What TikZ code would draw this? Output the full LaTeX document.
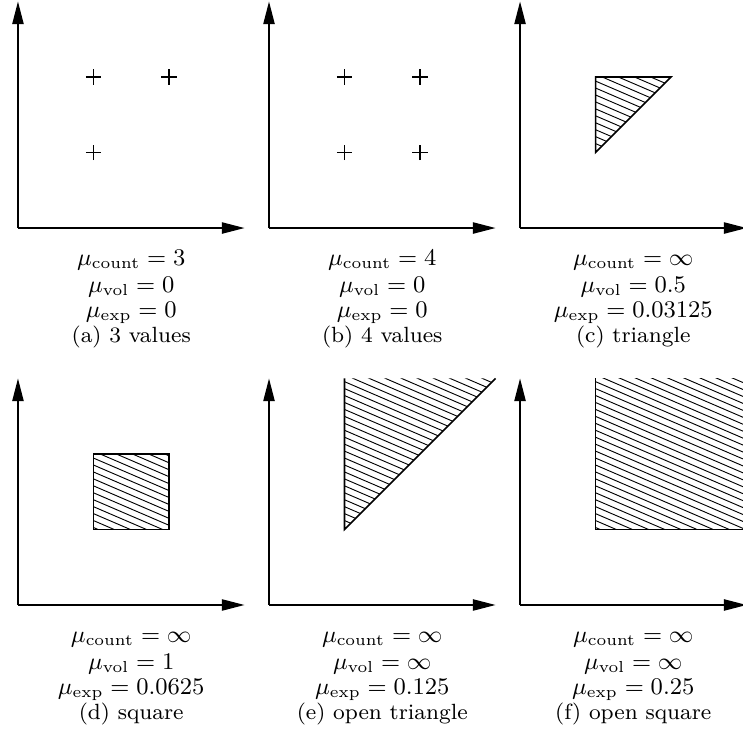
\documentclass[tikz,border=0pt]{standalone}
\usetikzlibrary{arrows.meta}
\tikzset{
  axisline/.style={line width=0.5pt, -{Triangle[length=3mm,width=1.5mm]}},
  shapeedge/.style={line width=0.6pt, line join=miter},
  hatchline/.style={line width=0.35pt},
  crossmark/.style={line width=0.4pt},
  lbl/.style={anchor=base, inner sep=0pt, font=\fontsize{9}{11}\selectfont},
  captext/.style={anchor=base, inner sep=0pt, font=\fontsize{8.3}{10}\selectfont},
}
\newcommand\hatchfill{%
  \foreach \k in {0,...,45} {\draw[hatchline] (0,{4.4-\k*0.092}) -- ++(4,-1.72);}%
}
\newcommand\panelaxes[1]{%
  \coordinate (#1-o) at (0,0);
  \coordinate (#1-x) at (3,0);
  \coordinate (#1-y) at (0,3);
  \draw[axisline] (#1-o) -- (#1-x);
  \draw[axisline] (#1-o) -- (#1-y);
}
\newcommand\crossat[2]{%
  \draw[crossmark] (#1-0.1,#2) -- (#1+0.1,#2) (#1,#2-0.1) -- (#1,#2+0.1);
}
\newcommand\captionlines[5]{%
  \node[lbl] (#1-l1) at (1.5,-0.50) {$\mu_{\mathrm{count}} = #2$};
  \node[lbl] (#1-l2) at (1.5,-0.85) {$\mu_{\mathrm{vol}} = #3$};
  \node[lbl] (#1-l3) at (1.5,-1.19) {$\mu_{\mathrm{exp}} = #4$};
  \node[captext] (#1-l4) at (1.5,-1.52) {#5};
}
\begin{document}
\begin{tikzpicture}
\useasboundingbox (-0.238,3.02) rectangle (9.603,-6.78);
\clip (-0.238,3.02) rectangle (9.603,-6.78);
% (a)
\begin{scope}[shift={(0,0)}]
  \panelaxes{a}
  \crossat{1}{2}\crossat{2}{2}\crossat{1}{1}
  \captionlines{a}{3}{0}{0}{(a) 3 values}
\end{scope}
% (b)
\begin{scope}[shift={(3.325,0)}]
  \panelaxes{b}
  \crossat{1}{2}\crossat{2}{2}\crossat{1}{1}\crossat{2}{1}
  \captionlines{b}{4}{0}{0}{(b) 4 values}
\end{scope}
% (c)
\begin{scope}[shift={(6.65,0)}]
  \panelaxes{c}
  \begin{scope}
    \clip (1,1) -- (1,2) -- (2,2) -- cycle;
    \hatchfill
  \end{scope}
  \draw[shapeedge] (1,1) -- (1,2) -- (2,2) -- cycle;
  \captionlines{c}{\infty}{0.5}{0.03125}{(c) triangle}
\end{scope}
% (d)
\begin{scope}[shift={(0,-4.993)}]
  \panelaxes{d}
  \begin{scope}
    \clip (1,1) rectangle (2,2);
    \hatchfill
  \end{scope}
  \draw[shapeedge] (1,1) rectangle (2,2);
  \captionlines{d}{\infty}{1}{0.0625}{(d) square}
\end{scope}
% (e)
\begin{scope}[shift={(3.325,-4.993)}]
  \panelaxes{e}
  \begin{scope}
    \clip (1,1) -- (1,3) -- (3,3) -- cycle;
    \hatchfill
  \end{scope}
  \draw[shapeedge] (1,3) -- (1,1) -- (3,3);
  \captionlines{e}{\infty}{\infty}{0.125}{(e) open triangle}
\end{scope}
% (f)
\begin{scope}[shift={(6.65,-4.993)}]
  \panelaxes{f}
  \begin{scope}
    \clip (1,1) rectangle (3,3);
    \hatchfill
  \end{scope}
  \draw[shapeedge] (1,3) -- (1,1) -- (3,1);
  \captionlines{f}{\infty}{\infty}{0.25}{(f) open square}
\end{scope}
\end{tikzpicture}
\end{document}
